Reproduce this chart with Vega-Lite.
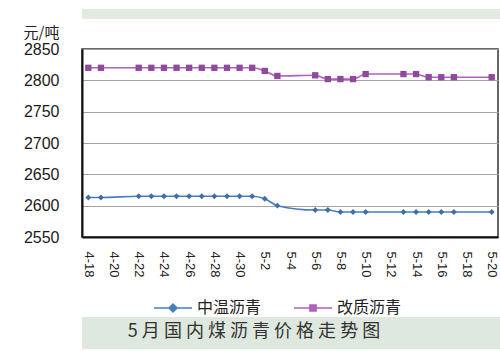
{
  "$schema": "https://vega.github.io/schema/vega-lite/v6.json",
  "background": "#ffffff",
  "padding": {"left": 0, "top": 8, "right": 0, "bottom": 0},
  "spacing": 5,
  "config": {"font": "Liberation Sans"},
  "datasets": {
    "prices": [
      {"d": "4-18", "s": "中温沥青", "v": 2613},
      {"d": "4-19", "s": "中温沥青", "v": 2613},
      {"d": "4-22", "s": "中温沥青", "v": 2615},
      {"d": "4-23", "s": "中温沥青", "v": 2615},
      {"d": "4-24", "s": "中温沥青", "v": 2615},
      {"d": "4-25", "s": "中温沥青", "v": 2615},
      {"d": "4-26", "s": "中温沥青", "v": 2615},
      {"d": "4-27", "s": "中温沥青", "v": 2615},
      {"d": "4-28", "s": "中温沥青", "v": 2615},
      {"d": "4-29", "s": "中温沥青", "v": 2615},
      {"d": "4-30", "s": "中温沥青", "v": 2615},
      {"d": "5-1", "s": "中温沥青", "v": 2615},
      {"d": "5-2", "s": "中温沥青", "v": 2611},
      {"d": "5-3", "s": "中温沥青", "v": 2600},
      {"d": "5-6", "s": "中温沥青", "v": 2593},
      {"d": "5-7", "s": "中温沥青", "v": 2593},
      {"d": "5-8", "s": "中温沥青", "v": 2590},
      {"d": "5-9", "s": "中温沥青", "v": 2590},
      {"d": "5-10", "s": "中温沥青", "v": 2590},
      {"d": "5-13", "s": "中温沥青", "v": 2590},
      {"d": "5-14", "s": "中温沥青", "v": 2590},
      {"d": "5-15", "s": "中温沥青", "v": 2590},
      {"d": "5-16", "s": "中温沥青", "v": 2590},
      {"d": "5-17", "s": "中温沥青", "v": 2590},
      {"d": "5-20", "s": "中温沥青", "v": 2590},
      {"d": "4-18", "s": "改质沥青", "v": 2820},
      {"d": "4-19", "s": "改质沥青", "v": 2820},
      {"d": "4-22", "s": "改质沥青", "v": 2820},
      {"d": "4-23", "s": "改质沥青", "v": 2820},
      {"d": "4-24", "s": "改质沥青", "v": 2820},
      {"d": "4-25", "s": "改质沥青", "v": 2820},
      {"d": "4-26", "s": "改质沥青", "v": 2820},
      {"d": "4-27", "s": "改质沥青", "v": 2820},
      {"d": "4-28", "s": "改质沥青", "v": 2820},
      {"d": "4-29", "s": "改质沥青", "v": 2820},
      {"d": "4-30", "s": "改质沥青", "v": 2820},
      {"d": "5-1", "s": "改质沥青", "v": 2820},
      {"d": "5-2", "s": "改质沥青", "v": 2815},
      {"d": "5-3", "s": "改质沥青", "v": 2807},
      {"d": "5-6", "s": "改质沥青", "v": 2808},
      {"d": "5-7", "s": "改质沥青", "v": 2802},
      {"d": "5-8", "s": "改质沥青", "v": 2802},
      {"d": "5-9", "s": "改质沥青", "v": 2802},
      {"d": "5-10", "s": "改质沥青", "v": 2810},
      {"d": "5-13", "s": "改质沥青", "v": 2810},
      {"d": "5-14", "s": "改质沥青", "v": 2810},
      {"d": "5-15", "s": "改质沥青", "v": 2805},
      {"d": "5-16", "s": "改质沥青", "v": 2805},
      {"d": "5-17", "s": "改质沥青", "v": 2805},
      {"d": "5-20", "s": "改质沥青", "v": 2805}
    ]
  },
  "vconcat": [
    {
      "width": 500,
      "height": 10,
      "view": {"fill": "#e2eae2", "stroke": null},
      "data": {"values": [{"t": ""}]},
      "mark": {"type": "text"},
      "encoding": {"text": {"field": "t"}}
    },
    {
      "width": 416,
      "height": 188,
      "view": {"stroke": "#333333", "strokeWidth": 1.5},
      "data": {"name": "prices"},
      "encoding": {
        "x": {
          "field": "d",
          "type": "ordinal",
          "sort": null,
          "scale": {
            "type": "point",
            "padding": 0.5,
            "domain": ["4-18","4-19","4-20","4-21","4-22","4-23","4-24","4-25","4-26","4-27","4-28","4-29","4-30","5-1","5-2","5-3","5-4","5-5","5-6","5-7","5-8","5-9","5-10","5-11","5-12","5-13","5-14","5-15","5-16","5-17","5-18","5-19","5-20"]
          },
          "axis": {
            "values": ["4-18","4-20","4-22","4-24","4-26","4-28","4-30","5-2","5-4","5-6","5-8","5-10","5-12","5-14","5-16","5-18","5-20"],
            "title": null,
            "labelAngle": 90,
            "labelFont": "Liberation Sans",
            "labelFontSize": 13,
            "labelColor": "#222222",
            "labelPadding": 14,
            "ticks": false,
            "grid": false,
            "domainColor": "#111111",
            "domainWidth": 2
          }
        },
        "y": {
          "field": "v",
          "type": "quantitative",
          "scale": {"domain": [2550, 2850], "nice": false, "zero": false},
          "axis": {
            "values": [2550, 2600, 2650, 2700, 2750, 2800, 2850],
            "format": "d",
            "title": "元/吨",
            "titleAngle": 0,
            "titleX": -23,
            "titleY": -17,
            "titleAlign": "right",
            "titleBaseline": "middle",
            "titleFont": "Noto Sans CJK SC",
            "titleFontSize": 15,
            "titleFontWeight": "normal",
            "titleColor": "#222222",
            "labelFont": "Liberation Sans",
            "labelFontSize": 16,
            "labelColor": "#1a1a1a",
            "tickSize": 81,
            "tickOpacity": 0,
            "labelPadding": -58,
            "domainColor": "#111111",
            "domainWidth": 2,
            "gridColor": "#a3a3a3",
            "gridWidth": 1
          }
        }
      },
      "layer": [
        {
          "mark": {"type": "line", "interpolate": "monotone", "strokeWidth": 1.6},
          "encoding": {
            "order": {"value": null},
            "color": {
              "field": "s",
              "type": "nominal",
              "scale": {"domain": ["中温沥青", "改质沥青"], "range": ["#4a7ebb", "#b060bd"]},
              "legend": {
                "orient": "none",
                "legendX": 71,
                "legendY": 279,
                "direction": "horizontal",
                "title": null,
                "padding": 0,
                "symbolSize": 1444,
                "symbolStrokeWidth": 1.6,
                "labelFont": "Noto Sans CJK SC",
                "labelFontSize": 16,
                "labelColor": "#222222",
                "labelOffset": 4,
                "columnPadding": 28,
                "encode": {
                  "symbols": {
                    "update": {
                      "shape": {"signal": "datum.value === '中温沥青' ? 'M-1,0H1M0,-0.21L0.21,0L0,0.21L-0.21,0Z' : 'M-1,0H1M-0.16,-0.16H0.16V0.16H-0.16Z'"},
                      "fill": {"scale": "color", "field": "value"},
                      "stroke": {"scale": "color", "field": "value"},
                      "fillOpacity": {"value": 1},
                      "strokeOpacity": {"value": 1}
                    }
                  }
                }
              }
            }
          }
        },
        {
          "transform": [{"filter": "datum.s === '中温沥青'"}],
          "mark": {"type": "point", "shape": "diamond", "filled": true, "size": 35, "color": "#3f6ea8", "opacity": 1}
        },
        {
          "transform": [{"filter": "datum.s === '改质沥青'"}],
          "mark": {"type": "point", "shape": "square", "filled": true, "size": 40, "color": "#8f4a9c", "opacity": 1}
        }
      ]
    },
    {
      "width": 500,
      "height": 29,
      "view": {"fill": null, "stroke": null},
      "data": {"values": [{"t": ""}]},
      "mark": {"type": "text"},
      "encoding": {"text": {"field": "t"}}
    },
    {
      "width": 500,
      "height": 32,
      "view": {"fill": "#dfe8df", "stroke": null},
      "data": {"values": [{"t": "5 月 国 内 煤 沥 青 价 格 走 势 图"}]},
      "mark": {"type": "text", "font": "Noto Sans CJK SC", "fontSize": 18, "color": "#333333", "dx": -78, "dy": -1, "baseline": "middle"},
      "encoding": {"text": {"field": "t"}}
    }
  ]
}
